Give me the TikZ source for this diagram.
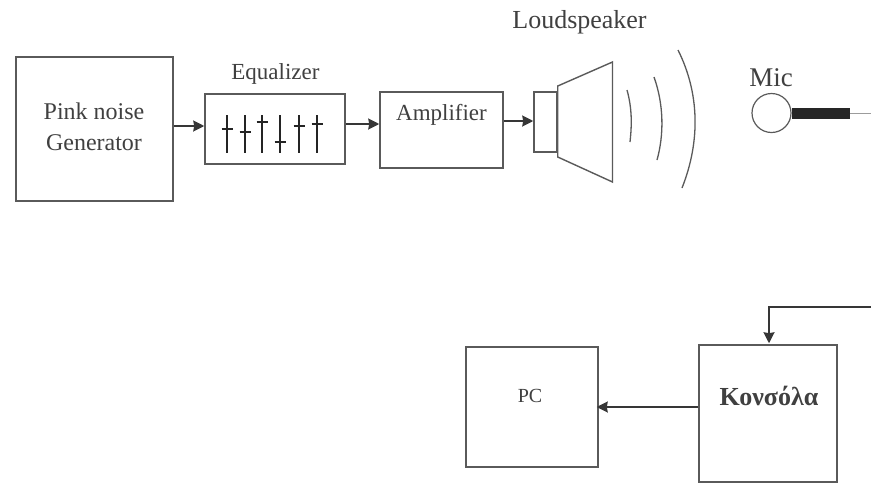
\documentclass[tikz,border=0pt]{standalone}
\usepackage{fontspec}
\setmainfont{Liberation Serif}
\usetikzlibrary{arrows.meta}
\definecolor{ink}{HTML}{5A5A5A}
\definecolor{txt}{HTML}{404040}
\begin{document}
\begin{tikzpicture}[x=1pt,y=-1pt,
  blockbox/.style={draw=ink,line width=1.5pt,inner sep=0pt,rectangle},
  lab/.style={text=txt,inner sep=0pt,font=\fontsize{24}{29}\selectfont,align=center},
  conn/.style={draw=ink!60!black,line width=1.8pt,-{Stealth[length=11pt,width=11pt,inset=1pt]}},
  slider/.style={draw=ink!40!black,line width=1.6pt},
  wave/.style={draw=ink,line width=1.3pt}]
\useasboundingbox[fill=white] (0,0) rectangle (871,483);
\node[blockbox,minimum width=157pt,minimum height=144pt] (pink) at (94.5,129) {};
\node[blockbox,minimum width=140pt,minimum height=70pt] (eq) at (275,129) {};
\node[blockbox,minimum width=123pt,minimum height=76pt] (amp) at (441.5,130) {};
\node[blockbox,minimum width=23pt,minimum height=60pt] (drv) at (545.5,122) {};
\node[blockbox,minimum width=132pt,minimum height=120pt] (pc) at (532,407) {};
\node[blockbox,minimum width=138pt,minimum height=137pt] (kons) at (768,413.5) {};
\node[blockbox,circle,minimum size=39pt,line width=1.2pt] (mic) at (771.5,113) {};
\node[lab] (t1) at (94,127) {Pink noise\\[2pt]Generator};
\node[lab,font=\fontsize{23}{28}\selectfont] (t2) at (275.5,74) {Equalizer};
\node[lab,font=\fontsize{23}{28}\selectfont] (t3) at (441.5,115) {Amplifier};
\node[lab,font=\fontsize{26}{30}\selectfont] (t4) at (579.5,22) {Loudspeaker};
\node[lab,font=\fontsize{27}{30}\selectfont] (t5) at (771,78) {Mic};
\node[lab,font=\fontsize{20}{24}\selectfont] (t6) at (530,396) {PC};
\node[lab,font=\bfseries\fontsize{26}{30}\selectfont] (t7) at (769,396) {Κονσόλα};
% cone
\draw[draw=ink,line width=1.4pt,line join=miter] (drv.north east |- 0,86) -- (612.5,62) -- (612.5,182) -- (drv.south east |- 0,157) -- cycle;
% waves
\draw[wave] (627,90) .. controls (632,108) and (632,124) .. (630,142);
\draw[wave] (654,77) .. controls (664,105) and (664,135) .. (657,160);
\draw[wave] (678,50) .. controls (699,92) and (701,140) .. (682,188);
% mic
\node[fill=black!85,minimum width=58pt,minimum height=11pt,inner sep=0pt,anchor=west] (bar) at (792,113.5) {};
\coordinate (micend) at (871,113.5);
\draw[draw=ink!60,line width=1.4pt] (bar.east) -- (micend);
% sliders
\foreach \x/\k in {227/129,245/132,262/122,280/142,299/126,317/124}{
  \draw[slider] (\x,115) -- (\x,153);
  \draw[slider,line width=2.6pt] (\x-5.5,\k) -- (\x+5.5,\k);
}
% connectors
\draw[conn] ([yshift=3pt]pink.east) -- ([yshift=3pt]eq.west);
\draw[conn] ([yshift=5pt]eq.east) -- ([yshift=5pt]eq.east -| amp.west);
\draw[conn] ([yshift=9pt]amp.east) -- ([yshift=9pt]amp.east -| drv.west);
\draw[conn] (kons.west |- pc.east) -- ([xshift=-2pt]pc.east);
\coordinate (in) at (871,307);
\draw[conn] (in) -| ([xshift=1pt,yshift=1pt]kons.north);
\end{tikzpicture}
\end{document}
